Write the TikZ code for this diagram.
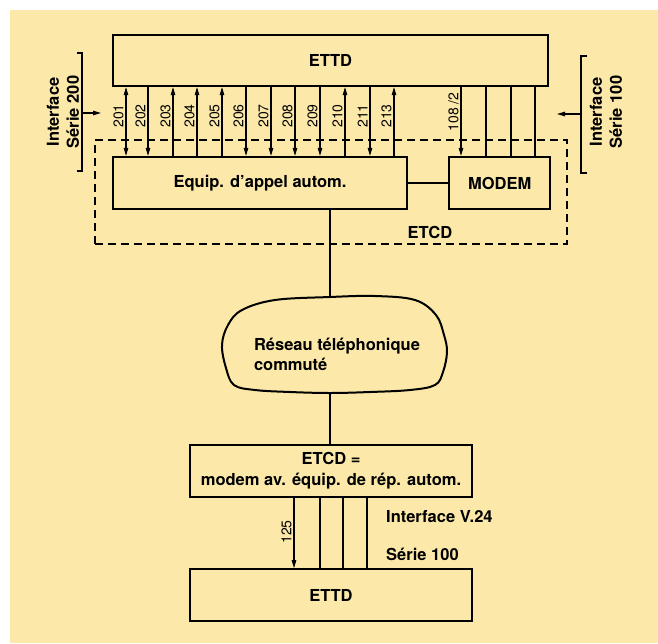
\documentclass[tikz,border=0pt]{standalone}
\usepackage{fontspec}
\setmainfont{TeX Gyre Heros}
\usetikzlibrary{positioning,arrows.meta}
\definecolor{paper}{RGB}{252,233,170}

\begin{document}
\begin{tikzpicture}[
    x=1pt, y=-1pt,
    >={Triangle[length=8pt,width=4.5pt]},
    node distance=40pt,
    box/.style={rectangle, draw=black, line width=2.2pt, inner sep=0pt, align=center,
        font=\fontsize{16.5}{21}\selectfont\bfseries},
    etcdbox/.style={rectangle, draw=black, line width=1.1pt, dash pattern=on 8pt off 5pt},
    lbl/.style={inner sep=0pt, font=\fontsize{16.5}{20}\selectfont\bfseries},
    num/.style={rotate=90, anchor=south, inner sep=1.2pt, font=\fontsize{14}{16}\selectfont},
    sig/.style={draw=black, line width=1.1pt}
    ]
        \useasboundingbox (0,0) rectangle (658,643);
        \fill[white] (0,0) rectangle (658,643);
        \fill[paper] (10,10) rectangle (658,643);

        %Nodes
        \node[box, minimum width=435pt, minimum height=51pt]
            (ettdtop)  at (330.5,60.5)       {ETTD};
        \node[box, minimum width=294pt, minimum height=52pt]
            (equip)    at (260,183)          {Equip. d'appel autom.};
        \node[box, minimum width=101pt, minimum height=52pt]
            (modem)    [right=of equip]      {MODEM};
        \node[etcdbox, minimum width=472pt, minimum height=104pt]
            (etcd)     at (331,192)          {};
        \node[lbl]
            (etcdlbl)  at (430,232)          {ETCD};
        \node[box, minimum width=282pt, minimum height=52pt]
            (modemrep) at (331,471)          {ETCD =\\modem av. équip. de rép. autom.};
        \node[box, minimum width=282pt, minimum height=52pt]
            (ettdbot)  [below=70pt of modemrep] {ETTD};

        %Cloud
        \coordinate (nettop) at (330,297);
        \coordinate (netbot) at (330,393);
        \draw[line width=2pt] plot[smooth cycle, tension=0.6] coordinates {
            (330,297) (375,296) (415,300) (436,315) (444,335) (447,352) (443,372)
            (435,385) (410,390) (370,392) (330,393) (290,392) (255,390) (234,385)
            (226,368) (222,345) (228,325) (242,310) (275,300)};
        \node[lbl, align=left]
            (net)      at (337,354)          {Réseau téléphonique\\commuté};

        %Interfaces
        \draw[sig] (77,53) -- (82,53) -- (82,171) -- (77,171);
        \coordinate (in200) at (82,113);
        \coordinate (to200) at (101,113);
        \node[lbl, rotate=90, align=center]
            (s200)     at (63,112)           {Interface\\Série 200};
        \draw[sig] (587,56) -- (581,56) -- (581,173) -- (587,173);
        \coordinate (in100) at (581,114);
        \coordinate (to100) at (557,114);
        \node[lbl, rotate=90, align=center]
            (s100)     at (606,112)          {Interface\\Série 100};
        \node[lbl, anchor=west]
            (v24)      at (386,517)          {Interface V.24};
        \node[lbl, anchor=west]
            (s100b)    at (386,554)          {Série 100};

        %Lines
        \foreach \x/\lab/\tip in {126/201/<->, 148/202/->, 173/203/<-, 197/204/<-,
                                 222/205/<-, 246/206/->, 271/207/->, 295/208/->,
                                 320/209/->, 345/210/<-, 370/211/->, 394/213/<-} {
            \draw[sig, \tip] (ettdtop.south -| \x,0) -- (equip.north -| \x,0);
            \node[num] at (\x-1,116) {\lab};
        }
        \draw[sig, ->] (ettdtop.south -| 461,0) -- (modem.north -| 461,0);
        \node[num] at (460,112) {108 /2};
        \foreach \x in {486,511,535}
            \draw[sig] (ettdtop.south -| \x,0) -- (modem.north -| \x,0);
        \draw[sig] (equip.east) -- (modem.west);
        \draw[sig] (equip.south -| nettop) -- (nettop);
        \draw[sig] (netbot) -- (modemrep.north -| netbot);
        \draw[sig, ->] (in200) -- (to200);
        \draw[sig, ->] (in100) -- (to100);
        \draw[sig, ->] (modemrep.south -| 294,0) -- (ettdbot.north -| 294,0);
        \node[num] at (293,532) {125};
        \foreach \x in {320,343,367}
            \draw[sig] (modemrep.south -| \x,0) -- (ettdbot.north -| \x,0);
\end{tikzpicture}
\end{document}
